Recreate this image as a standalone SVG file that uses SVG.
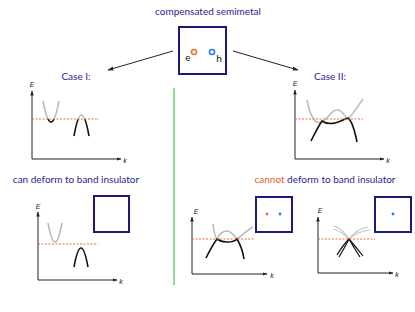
<svg xmlns="http://www.w3.org/2000/svg" width="415" height="312" viewBox="0 0 415 312">
<style>
.t{font-family:Lato,"Open Sans","Liberation Sans",sans-serif;font-size:10px;fill:#2a2496}
.ax{stroke:#222;stroke-width:1;fill:none}
.lab{font-family:"Liberation Sans",sans-serif;font-size:7px;font-style:italic;fill:#222}
.fermi{stroke:#f06a4a;stroke-width:1;stroke-dasharray:2,1.5;fill:none}
.bk{stroke:#111;stroke-width:1.6;fill:none}
.gr{stroke:#bbb;stroke-width:1.6;fill:none}
.box{fill:#fff;stroke:#1b1a7a;stroke-width:2}
</style>
<defs>
<marker id="ah" viewBox="0 0 10 10" refX="9" refY="5" markerWidth="6" markerHeight="6" orient="auto"><path d="M0,1.5 L10,5 L0,8.5 z" fill="#222"/></marker>
<marker id="axh" viewBox="0 0 10 10" refX="9" refY="5" markerWidth="5" markerHeight="5" orient="auto"><path d="M0,1.5 L10,5 L0,8.5 z" fill="#222"/></marker>
<clipPath id="below1"><rect x="0" y="119" width="415" height="60"/></clipPath>
<clipPath id="above1"><rect x="0" y="60" width="415" height="59"/></clipPath>
</defs>

<text class="t" x="208" y="15" text-anchor="middle">compensated semimetal</text>

<g id="top-box">
<rect class="box" x="179" y="27" width="47" height="47"/>
<text x="188" y="61" font-family="Lato,'Liberation Sans',sans-serif" font-size="10" text-anchor="middle" fill="#111">e</text>
<circle cx="194" cy="52" r="2.5" fill="#fff" stroke="#f07030" stroke-width="1.6"/>
<circle cx="212" cy="52" r="2.5" fill="#fff" stroke="#2080f0" stroke-width="1.6"/>
<text x="219" y="62" font-family="Lato,'Liberation Sans',sans-serif" font-size="10" text-anchor="middle" fill="#111">h</text>
</g>

<g id="connectors">
<line x1="173" y1="51" x2="108" y2="70" stroke="#222" stroke-width="1" marker-end="url(#ah)"/>
<line x1="233" y1="51" x2="298" y2="70" stroke="#222" stroke-width="1" marker-end="url(#ah)"/>
<line x1="174" y1="88" x2="174" y2="285" stroke="#6fd06f" stroke-width="1.5"/>
</g>

<g id="case1">
<text class="t" x="76" y="80" text-anchor="middle">Case I:</text>
<line class="ax" x1="32" y1="159" x2="32" y2="91" marker-end="url(#axh)"/>
<line class="ax" x1="32" y1="159" x2="121" y2="159" marker-end="url(#axh)"/>
<text class="lab" x="32" y="87" text-anchor="middle">E</text>
<text class="lab" x="125" y="163" text-anchor="middle">k</text>
<path class="gr" d="M43,101 Q51,143 59,101"/>
<path class="bk" d="M43,101 Q51,143 59,101" clip-path="url(#below1)"/>
<path class="bk" d="M74,136 Q81.5,94 89,136" clip-path="url(#below1)"/>
<path class="gr" d="M74,136 Q81.5,94 89,136" clip-path="url(#above1)"/>
<line class="fermi" x1="32" y1="119" x2="99" y2="119"/>
</g>

<g id="case2">
<text class="t" x="330" y="80" text-anchor="middle">Case II:</text>
<line class="ax" x1="295" y1="159" x2="295" y2="90" marker-end="url(#axh)"/>
<line class="ax" x1="295" y1="159" x2="384" y2="159" marker-end="url(#axh)"/>
<text class="lab" x="295" y="86" text-anchor="middle">E</text>
<text class="lab" x="388" y="163" text-anchor="middle">k</text>
<path class="gr" d="M307,100 C310,116 315,125 322,122 C328,119 331,110 337,110 C343,110 345,118 348,119 C353,114 358,106 363,99"/>
<path class="bk" d="M311,141 C316,131 319,125 322,121 C326,124 330,124 335,123 C340,122 344,119 348,118 C352,121 355,132 357,142"/>
<line class="fermi" x1="295" y1="119" x2="363" y2="119"/>
</g>

<g id="deform">
<text class="t" x="76" y="183" text-anchor="middle">can deform to band insulator</text>
<line class="ax" x1="38" y1="280" x2="38" y2="212" marker-end="url(#axh)"/>
<line class="ax" x1="38" y1="280" x2="117" y2="280" marker-end="url(#axh)"/>
<text class="lab" x="38" y="209" text-anchor="middle">E</text>
<text class="lab" x="121" y="284" text-anchor="middle">k</text>
<path class="gr" d="M48,223 Q55,261 62,223"/>
<path class="bk" d="M74,267 Q81,229 88,267"/>
<line class="fermi" x1="38" y1="244" x2="98" y2="244"/>
<rect class="box" x="94" y="196" width="35" height="36"/>
</g>

<g id="cannot">
<text class="t" x="325" y="183" text-anchor="middle"><tspan fill="#f05a2e">cannot</tspan> deform to band insulator</text>
</g>

<g id="cannot-a">
<line class="ax" x1="192" y1="274" x2="192" y2="217" marker-end="url(#axh)"/>
<line class="ax" x1="192" y1="274" x2="267" y2="274" marker-end="url(#axh)"/>
<text class="lab" x="196" y="214" text-anchor="middle">E</text>
<text class="lab" x="272" y="278" text-anchor="middle">k</text>
<path class="gr" d="M213,224 C214,232 215,237 217,239 C220,233 224,231 227,231 C231,231 234,235 237,239 C242,235 248,230 253,227"/>
<path class="bk" d="M206,258 C210,250 214,243 217,239 C221,242 232,244 237,239 C240,244 243,252 244,259"/>
<line class="fermi" x1="192" y1="239" x2="254" y2="239"/>
<rect class="box" x="256" y="197" width="36" height="35"/>
<circle cx="267" cy="214" r="1.4" fill="#f07030"/>
<circle cx="280" cy="214" r="1.4" fill="#2080f0"/>
</g>

<g id="cannot-b">
<line class="ax" x1="318" y1="273" x2="318" y2="217" marker-end="url(#axh)"/>
<line class="ax" x1="318" y1="273" x2="393" y2="273" marker-end="url(#axh)"/>
<text class="lab" x="320" y="213" text-anchor="middle">E</text>
<text class="lab" x="397" y="277" text-anchor="middle">k</text>
<g stroke="#c4c4c4" stroke-width="1.2" fill="none">
<path d="M333,229 Q341,231 349,239"/>
<path d="M334,226 Q343,229 349,239"/>
<path d="M349,239 Q356,229 368,227"/>
<path d="M349,239 Q358,231 370,230"/>
</g>
<g stroke="#111" stroke-width="1.2" fill="none">
<path d="M337,255 Q343,245 349,239"/>
<path d="M339,257 Q345,247 349,239"/>
<path d="M349,239 Q354,248 360,257"/>
<path d="M349,239 Q356,247 363,256"/>
</g>
<line class="fermi" x1="318" y1="239" x2="375" y2="239"/>
<rect class="box" x="375" y="197" width="36" height="35"/>
<circle cx="393" cy="214" r="1.4" fill="#2080f0"/>
</g>
</svg>
